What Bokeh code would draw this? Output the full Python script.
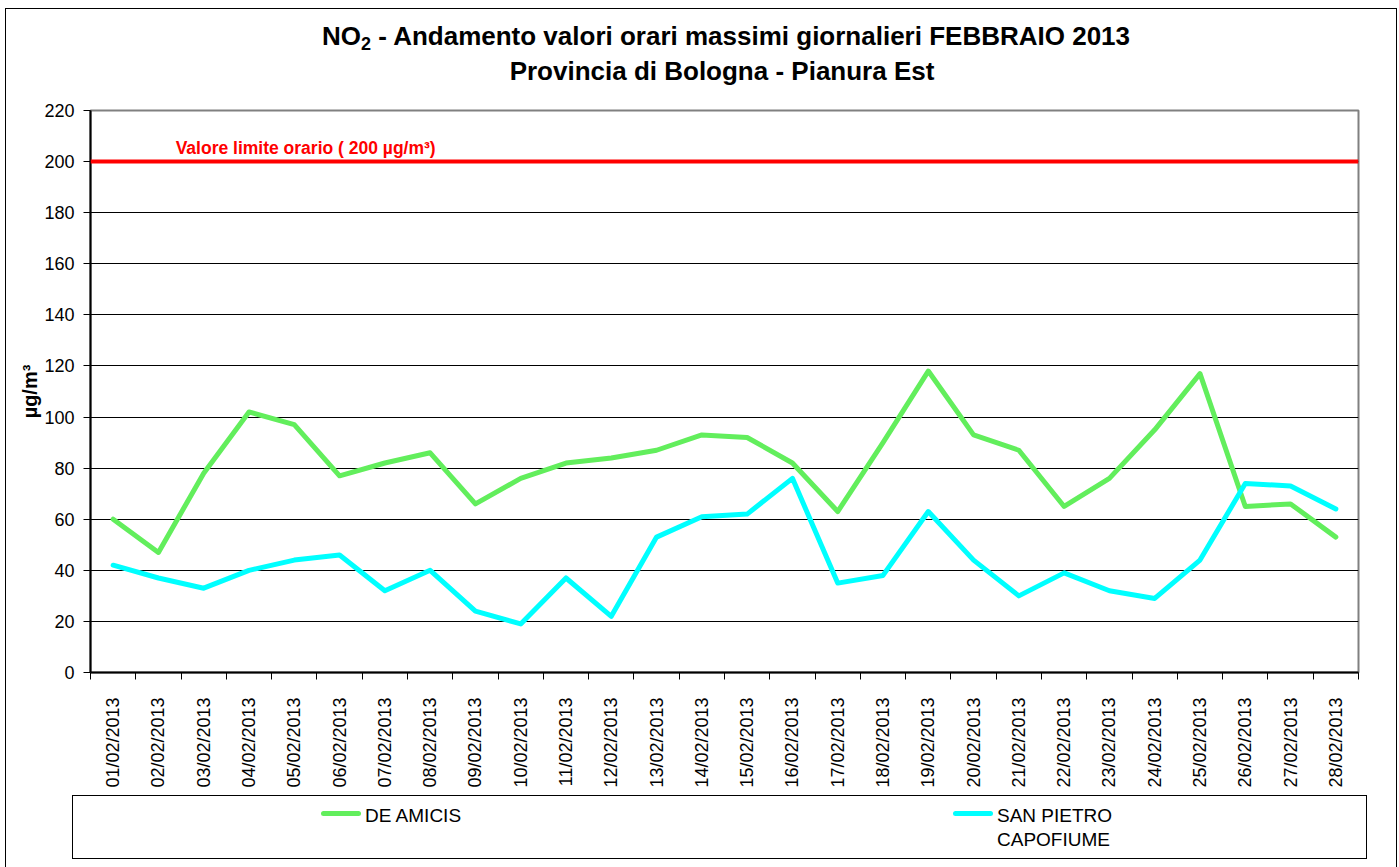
import math
from bokeh.plotting import figure
from bokeh.models import Range1d, FixedTicker, Span, Label, Div
from bokeh.layouts import column
from bokeh.embed import file_html
from bokeh.resources import INLINE

# ---- data ----
dates = ["01/02/2013", "02/02/2013", "03/02/2013", "04/02/2013", "05/02/2013",
         "06/02/2013", "07/02/2013", "08/02/2013", "09/02/2013", "10/02/2013",
         "11/02/2013", "12/02/2013", "13/02/2013", "14/02/2013", "15/02/2013",
         "16/02/2013", "17/02/2013", "18/02/2013", "19/02/2013", "20/02/2013",
         "21/02/2013", "22/02/2013", "23/02/2013", "24/02/2013", "25/02/2013",
         "26/02/2013", "27/02/2013", "28/02/2013"]
de_amicis = [60, 47, 78, 102, 97, 77, 82, 86, 66, 76, 82, 84, 87, 93, 92, 82,
             63, 90, 118, 93, 87, 65, 76, 95, 117, 65, 66, 53]
san_pietro = [42, 37, 33, 40, 44, 46, 32, 40, 24, 19, 37, 22, 53, 61, 62, 76,
              35, 38, 63, 44, 30, 39, 32, 29, 44, 74, 73, 64]
series_names = ["DE AMICIS", "SAN PIETRO\nCAPOFIUME"]
series_colors = ["#62EE5C", "#00FFFF"]
y_ticks = [0, 20, 40, 60, 80, 100, 120, 140, 160, 180, 200, 220]
limit_value = 200
limit_label = "Valore limite orario ( 200 µg/m³)"
title_line1 = "NO₂ - Andamento valori orari massimi giornalieri FEBBRAIO 2013"
title_line2 = "Provincia di Bologna - Pianura Est"
y_label = "µg/m³"

FONT = "Liberation Sans"
xs = list(range(1, len(dates) + 1))

# ---- title block ----
sub = '<span style="font-size:18px;position:relative;top:5px;">2</span>'
t1_html = title_line1.replace("₂", sub)
title_html = (
    '<div style="position:relative;width:1390px;height:90px;'
    "font-family:'Liberation Sans',sans-serif;font-weight:bold;font-size:26px;"
    'line-height:35px;color:#000;">'
    '<div style="position:absolute;left:720px;top:10px;transform:translateX(-50%);'
    'white-space:nowrap;">' + t1_html + '</div>'
    '<div style="position:absolute;left:716px;top:45px;transform:translateX(-50%);'
    'white-space:nowrap;">' + title_line2 + '</div></div>'
)
title_div = Div(text=title_html, width=1390, height=90, margin=0)

# ---- main plot ----
p = figure(width=1390, height=696, output_backend="svg", toolbar_location=None,
           x_range=Range1d(0.5, len(dates) + 0.5), y_range=Range1d(0, 220),
           min_border_left=84, min_border_right=38, min_border_top=11,
           min_border_bottom=123, title=None, margin=0)
p.outline_line_color = "#808080"
p.outline_line_width = 2
p.background_fill_color = "white"
p.border_fill_color = "white"

p.xgrid.visible = False
p.ygrid.grid_line_color = "black"
p.ygrid.grid_line_width = 1
p.ygrid.ticker = FixedTicker(ticks=y_ticks)

p.yaxis.ticker = FixedTicker(ticks=y_ticks)
p.yaxis.major_tick_out = 7
p.yaxis.major_tick_in = 0
p.yaxis.minor_tick_out = 0
p.yaxis.minor_tick_in = 0
p.yaxis.axis_line_color = "black"
p.yaxis.axis_line_width = 2
p.yaxis.major_tick_line_color = "black"
p.yaxis.major_label_text_font = FONT
p.yaxis.major_label_text_font_size = "18px"
p.yaxis.major_label_text_color = "black"
p.yaxis.major_label_standoff = 9
p.yaxis.axis_label = y_label
p.yaxis.axis_label_text_font = FONT
p.yaxis.axis_label_text_font_size = "20px"
p.yaxis.axis_label_text_font_style = "bold"
p.yaxis.axis_label_text_color = "black"
p.yaxis.axis_label_standoff = 0

p.xaxis.ticker = FixedTicker(ticks=xs, minor_ticks=[x - 0.5 for x in xs] + [xs[-1] + 0.5])
p.xaxis.major_label_overrides = {x: d for x, d in zip(xs, dates)}
p.xaxis.major_label_orientation = math.pi / 2
p.xaxis.major_tick_out = 0
p.xaxis.major_tick_in = 0
p.xaxis.minor_tick_out = 7
p.xaxis.minor_tick_in = 0
p.xaxis.minor_tick_line_color = "black"
p.xaxis.axis_line_color = "black"
p.xaxis.axis_line_width = 2
p.xaxis.major_label_text_font = FONT
p.xaxis.major_label_text_font_size = "18px"
p.xaxis.major_label_text_color = "black"
p.xaxis.major_label_standoff = 18

p.add_layout(Span(location=limit_value, dimension="width", line_color="#FF0000",
                  line_width=4))
p.add_layout(Label(x=2.38, y=limit_value, y_offset=4, text=limit_label,
                   text_font=FONT, text_font_size="17.5px", text_font_style="bold",
                   text_color="#FF0000", text_baseline="bottom"))

for vals, col in zip([de_amicis, san_pietro], series_colors):
    p.line(xs, vals, line_color=col, line_width=5, line_join="round", line_cap="round")

# ---- legend block ----
glyph_x = [248, 880]
items = ""
for gx, name, col in zip(glyph_x, series_names, series_colors):
    items += ('<div style="position:absolute;left:%dpx;top:15px;width:40px;height:5px;'
              'border-radius:3px;background:%s;"></div>' % (gx, col))
    items += ('<div style="position:absolute;left:%dpx;top:8px;white-space:nowrap;">%s</div>'
              % (gx + 44, name.replace("\n", "<br>")))
legend_html = (
    '<div style="position:relative;box-sizing:border-box;width:1295px;height:64px;'
    "border:1px solid #000;font-family:'Liberation Sans',sans-serif;font-size:19px;"
    'line-height:24px;color:#000;background:#fff;">' + items + '</div>'
)
legend_div = Div(text=legend_html, width=1295, height=64, margin=(0, 0, 10, 66))

layout = column(title_div, p, legend_div, styles={"border": "1px solid black"},
                margin=(8, 0, 0, 5), spacing=0)

open("out.html", "w").write(file_html(layout, INLINE))
